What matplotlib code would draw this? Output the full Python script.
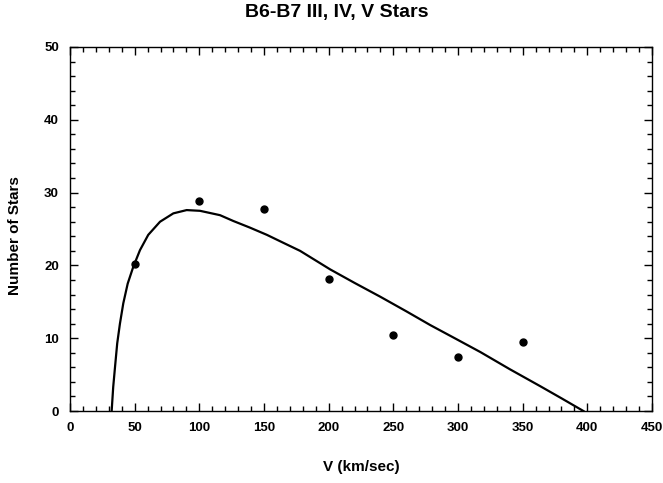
import matplotlib.pyplot as plt
from matplotlib.ticker import MultipleLocator

plt.rcParams['font.family'] = ['Liberation Sans', 'DejaVu Sans']

# observed counts
v_obs = [50, 100, 150, 200, 250, 300, 350]
n_obs = [20.2, 28.9, 27.7, 18.1, 10.4, 7.4, 9.5]

# fitted curve
v_fit = [32.2, 33.4, 34.8, 36.5, 38.6, 41.2, 44.6, 48.9, 54.1, 60.5,
         69.6, 79.9, 90.2, 100.5, 116.0, 126.3, 139.0, 152.2, 165.0,
         177.9, 201.2, 220.0, 239.9, 260.0, 278.6, 298.0, 317.3, 340.0,
         363.7, 380.0, 397.0]
n_fit = [0.0, 3.3, 6.05, 9.3, 12.0, 14.8, 17.5, 19.8, 22.1, 24.2,
         26.0, 27.15, 27.6, 27.5, 26.9, 26.1, 25.2, 24.2, 23.1,
         22.0, 19.45, 17.6, 15.7, 13.7, 11.8, 9.95, 8.1, 5.75,
         3.4, 1.75, 0.0]

fig = plt.figure(figsize=(6.63, 4.83), dpi=100)
ax = fig.add_axes([0.1056, 0.149, 0.8778, 0.7537])

ax.plot(v_fit, n_fit, color="black", linewidth=1.6, solid_joinstyle="round")
ax.plot(v_obs, n_obs, "o", color="black", markersize=5)

ax.set_xlim(0, 450)
ax.set_ylim(0, 50)
ax.xaxis.set_major_locator(MultipleLocator(50))
ax.xaxis.set_minor_locator(MultipleLocator(10))
ax.yaxis.set_major_locator(MultipleLocator(10))
ax.yaxis.set_minor_locator(MultipleLocator(2))
ax.tick_params(which="both", direction="in", top=True, right=True,
               width=1, labelsize=9.5)
ax.tick_params(which="major", length=6, pad=8)
ax.tick_params(which="minor", length=3.5)
for lbl in ax.get_xticklabels() + ax.get_yticklabels():
    lbl.set_fontweight("bold")
for sp in ax.spines.values():
    sp.set_linewidth(1)

fig.text(337 / 663, 1 - 13 / 483, "B6-B7 III, IV, V Stars", ha="center",
         va="center", fontsize=14, fontweight="bold")
fig.text(361 / 663, 1 - 467 / 483, "V (km/sec)", ha="center", va="center",
         fontsize=11, fontweight="bold")
fig.text(15 / 663, 1 - 236 / 483, "Number of Stars", ha="center",
         va="center", rotation=90, fontsize=11, fontweight="bold")

fig.savefig("out.png", dpi=100)
